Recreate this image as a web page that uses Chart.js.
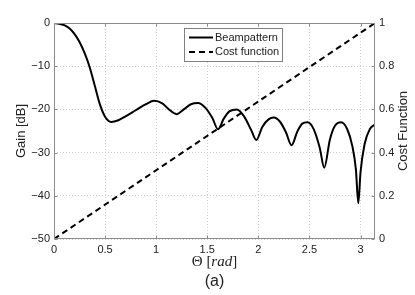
<!DOCTYPE html>
<html lang="en">
<head>
<meta charset="UTF-8">
<title>Beampattern and cost function</title>
<script src="https://cdn.jsdelivr.net/npm/chart.js"></script>
<style>
  html, body { margin: 0; padding: 0; background: #fff; }
  #wrap { width: 415px; height: 295px; position: relative; }
</style>
</head>
<body>
<div id="wrap"><canvas id="beamChart"></canvas></div>
<script>
// values
const theta = [0, 0.05, 0.1, 0.15, 0.2, 0.25, 0.3, 0.35, 0.4, 0.45, 0.5, 0.56, 0.63, 0.7, 0.8, 0.9, 0.98,
  1.06, 1.12, 1.2, 1.27, 1.34, 1.41, 1.48, 1.55, 1.605, 1.66, 1.72, 1.79, 1.86, 1.93, 1.98,
  2.04, 2.1, 2.15, 2.21, 2.27, 2.325, 2.38, 2.43, 2.48, 2.54, 2.6, 2.645, 2.7, 2.75, 2.81,
  2.87, 2.92, 2.955, 2.978, 3.0, 3.04, 3.09, 3.1416];
const gainDb = [0, -0.15, -0.5, -1.2, -2.5, -4.4, -7.0, -10.3, -14.6, -18.9, -21.7, -22.9, -22.5, -21.6, -20.2, -18.8, -18.0,
  -18.6, -19.9, -21.1, -20.0, -18.8, -18.5, -19.6, -22.0, -24.6, -22.2, -20.4, -20.0, -21.6, -24.8, -27.1,
  -24.0, -22.3, -21.9, -22.8, -25.3, -28.3, -25.2, -23.3, -23.0, -24.5, -28.8, -33.5, -27.0, -23.8, -23.0,
  -24.6, -28.5, -34.0, -41.7, -34.5, -28.0, -24.6, -23.5];
const costTheta = [0, Math.PI];
const costValue = [0, 1];
const seriesLabels = ['Beampattern', 'Cost function'];
const xTicks = [0, 0.5, 1, 1.5, 2, 2.5, 3];
const gainTicks = [-50, -40, -30, -20, -10, 0];
const costTicks = [0, 0.2, 0.4, 0.6, 0.8, 1];

const sans = 'Liberation Sans, Arial, sans-serif';
const serif = 'Liberation Serif, Times New Roman, serif';
const frameColor = '#8c8c8c';
const textColor = '#222';

// matlab-like frame, inward ticks, legend box and axis titles
const matlabLook = {
  id: 'matlabLook',
  afterDraw(chart) {
    const { ctx, chartArea: a, scales } = chart;
    const L = Math.round(a.left) + 0.5, R = Math.round(a.right) - 0.5;
    const T = Math.round(a.top) + 0.5, B = Math.round(a.bottom) - 0.5;
    ctx.save();
    ctx.strokeStyle = frameColor;
    ctx.lineWidth = 1;
    ctx.setLineDash([]);
    ctx.strokeRect(L, T, R - L, B - T);
    ctx.beginPath();
    xTicks.forEach(v => {
      const px = Math.round(scales.x.getPixelForValue(v)) + 0.5;
      ctx.moveTo(px, B); ctx.lineTo(px, B - 3);
      ctx.moveTo(px, T); ctx.lineTo(px, T + 3);
    });
    gainTicks.forEach(v => {
      const py = Math.round(scales.y.getPixelForValue(v)) + 0.5;
      ctx.moveTo(L, py); ctx.lineTo(L + 3, py);
    });
    costTicks.forEach(v => {
      const py = Math.round(scales.y2.getPixelForValue(v)) + 0.5;
      ctx.moveTo(R, py); ctx.lineTo(R - 3, py);
    });
    ctx.stroke();

    // legend
    const lx = 184.5, ly = 28.5, lw = 98, lh = 33;
    ctx.fillStyle = '#fff';
    ctx.fillRect(lx, ly, lw, lh);
    ctx.strokeStyle = '#808080';
    ctx.strokeRect(lx, ly, lw, lh);
    ctx.font = '11px ' + sans;
    ctx.textBaseline = 'middle';
    ctx.textAlign = 'left';
    chart.data.datasets.forEach((ds, i) => {
      const y = 37.5 + i * 14.5;
      ctx.strokeStyle = ds.borderColor;
      ctx.lineWidth = ds.borderWidth;
      ctx.setLineDash(ds.borderDash || []);
      ctx.beginPath();
      ctx.moveTo(189, y); ctx.lineTo(213, y);
      ctx.stroke();
      ctx.fillStyle = textColor;
      ctx.fillText(ds.label, 215, y);
    });
    ctx.setLineDash([]);

    // axis titles
    const midY = (a.top + a.bottom) / 2;
    const midX = (a.left + a.right) / 2;
    ctx.fillStyle = textColor;
    ctx.textAlign = 'center';
    ctx.textBaseline = 'middle';
    ctx.font = '13px ' + sans;
    ctx.save();
    ctx.translate(21, midY);
    ctx.rotate(-Math.PI / 2);
    ctx.fillText('Gain [dB]', 0, 0);
    ctx.restore();
    ctx.save();
    ctx.translate(403, midY);
    ctx.rotate(-Math.PI / 2);
    ctx.fillText('Cost Function', 0, 0);
    ctx.restore();

    // x title with italic "rad"
    ctx.textBaseline = 'alphabetic';
    ctx.textAlign = 'left';
    const parts = [['\u0398 [', '15px ' + serif], ['rad', 'italic 15px ' + serif], [']', '15px ' + serif]];
    let total = 0;
    parts.forEach(p => { ctx.font = p[1]; total += ctx.measureText(p[0]).width; });
    let x = midX - total / 2;
    parts.forEach(p => { ctx.font = p[1]; ctx.fillText(p[0], x, 266); x += ctx.measureText(p[0]).width; });

    ctx.textAlign = 'center';
    ctx.font = '16px ' + sans;
    ctx.fillText('(a)', midX, 286);
    ctx.restore();
  }
};

const ctx = document.getElementById('beamChart').getContext('2d');

const beamChart = new Chart(ctx, {
  type: 'line',
  data: {
    datasets: [{
      label: seriesLabels[0],
      data: theta.map((t, i) => ({ x: t, y: gainDb[i] })),
      yAxisID: 'y',
      borderColor: '#000',
      borderWidth: 2,
      pointRadius: 0,
      cubicInterpolationMode: 'monotone',
      fill: false
    }, {
      label: seriesLabels[1],
      data: costTheta.map((t, i) => ({ x: t, y: costValue[i] })),
      yAxisID: 'y2',
      borderColor: '#000',
      borderWidth: 2,
      borderDash: [6, 4],
      pointRadius: 0,
      fill: false
    }]
  },
  options: {
    responsive: true,
    maintainAspectRatio: false,
    animation: false,
    layout: { padding: { top: 23, left: 0, right: 0, bottom: 0 } },
    plugins: {
      legend: { display: false },
      tooltip: { enabled: false }
    },
    scales: {
      x: {
        type: 'linear',
        min: 0,
        max: Math.PI,
        afterBuildTicks: s => { s.ticks = xTicks.map(v => ({ value: v })); },
        afterFit: s => { s.height = 56; },
        ticks: {
          autoSkip: false,
          maxRotation: 0,
          padding: 4,
          color: textColor,
          font: { family: sans, size: 11 },
          callback: v => String(v)
        },
        grid: { color: '#cfcfcf', drawTicks: false, lineWidth: 1 },
        border: { display: false, dash: [1, 2] }
      },
      y: {
        position: 'left',
        min: -50,
        max: 0,
        afterBuildTicks: s => { s.ticks = gainTicks.map(v => ({ value: v })); },
        afterFit: s => { s.width = 54; },
        ticks: {
          padding: 4,
          color: textColor,
          font: { family: sans, size: 11 },
          callback: v => v < 0 ? '\u2212' + Math.abs(v) : String(v)
        },
        grid: { color: '#cfcfcf', drawTicks: false, lineWidth: 1 },
        border: { display: false, dash: [1, 2] }
      },
      y2: {
        position: 'right',
        min: 0,
        max: 1,
        afterBuildTicks: s => { s.ticks = costTicks.map(v => ({ value: v })); },
        afterFit: s => { s.width = 40; },
        ticks: {
          padding: 4,
          color: textColor,
          font: { family: sans, size: 11 },
          callback: v => String(v)
        },
        grid: { display: false, drawTicks: false },
        border: { display: false }
      }
    }
  },
  plugins: [matlabLook]
});
</script>
</body>
</html>
